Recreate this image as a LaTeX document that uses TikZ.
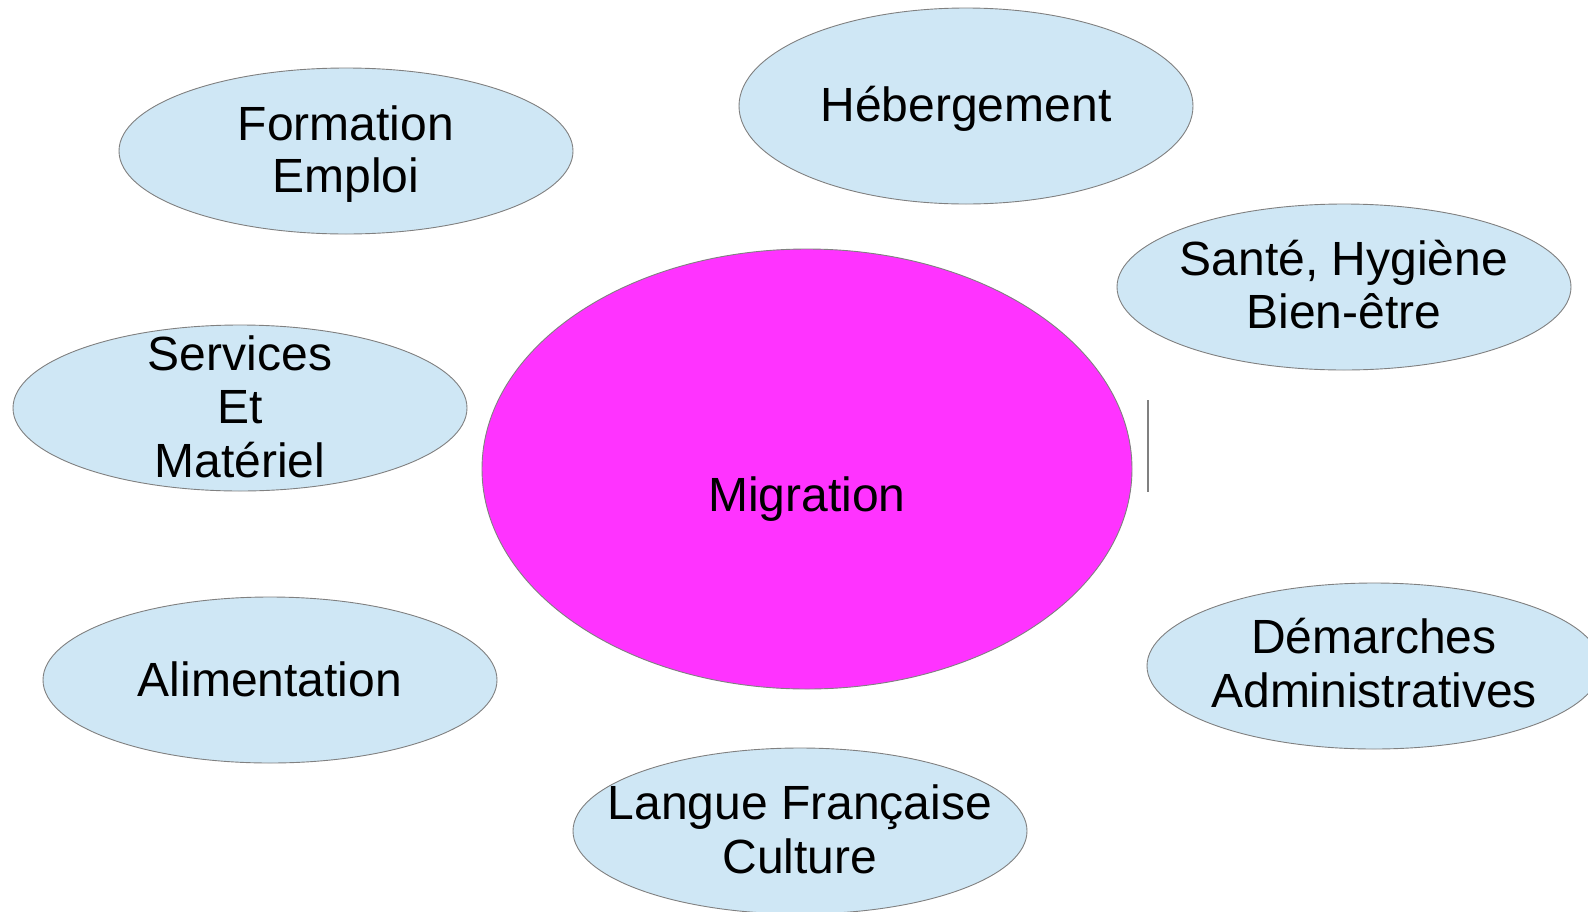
\documentclass[tikz,border=0pt]{standalone}
\usepackage{fontspec}
\setmainfont{Liberation Sans}
\usetikzlibrary{shapes.geometric}
\definecolor{bubblefill}{HTML}{CFE7F5}
\definecolor{bubbleline}{HTML}{808080}
\definecolor{migfill}{HTML}{FF33FF}
\tikzset{
  bubble/.style={ellipse, draw=bubbleline, line width=0.9pt, fill=bubblefill, inner sep=0pt, minimum width=454pt, minimum height=166pt},
  centre/.style={ellipse, draw=bubbleline, line width=0.9pt, fill=migfill, inner sep=0pt, minimum width=650pt, minimum height=440pt},
  txt/.style={anchor=base, inner sep=0pt, font=\fontsize{48}{54}\selectfont, text=black},
}
\begin{document}
\begin{tikzpicture}[x=1pt,y=-1pt]
\clip (0,0) rectangle (1588,911);
\fill[white] (0,0) rectangle (1588,911);
% bubbles
\node[bubble] (form) at (346,151) {};
\node[bubble, minimum height=196pt] (heb) at (966,106) {};
\node[bubble] (sante) at (1344,287) {};
\node[bubble] (serv) at (240,408) {};
\node[centre] (mig) at (807,469) {};
\node[bubble] (alim) at (270,680) {};
\node[bubble] (dem) at (1374,666) {};
\node[bubble] (lang) at (800,831) {};
% stray vertical line
\coordinate (vtop) at (1148,400);
\coordinate (vbot) at (1148,492);
\draw[bubbleline, line width=2pt] (vtop) -- (vbot);
% texts
\node[txt] (formA) at (346,140) {Formation};
\node[txt] (formB) at (346,192) {Emploi};
\node[txt] (hebA) at (966,121) {Hébergement};
\node[txt] (santeA) at (1344,275) {Santé, Hygiène};
\node[txt] (santeB) at (1344,328) {Bien-être};
\node[txt] (servA) at (240,370) {Services};
\node[txt] (servB) at (240,423) {Et};
\node[txt] (servC) at (240,477) {Matériel};
\node[txt] (migA) at (807,511) {Migration};
\node[txt] (alimA) at (270,696) {Alimentation};
\node[txt] (demA) at (1374,653) {Démarches};
\node[txt] (demB) at (1374,707) {Administratives};
\node[txt] (langA) at (800,819) {Langue Française};
\node[txt] (langB) at (800,873) {Culture};
\end{tikzpicture}
\end{document}
